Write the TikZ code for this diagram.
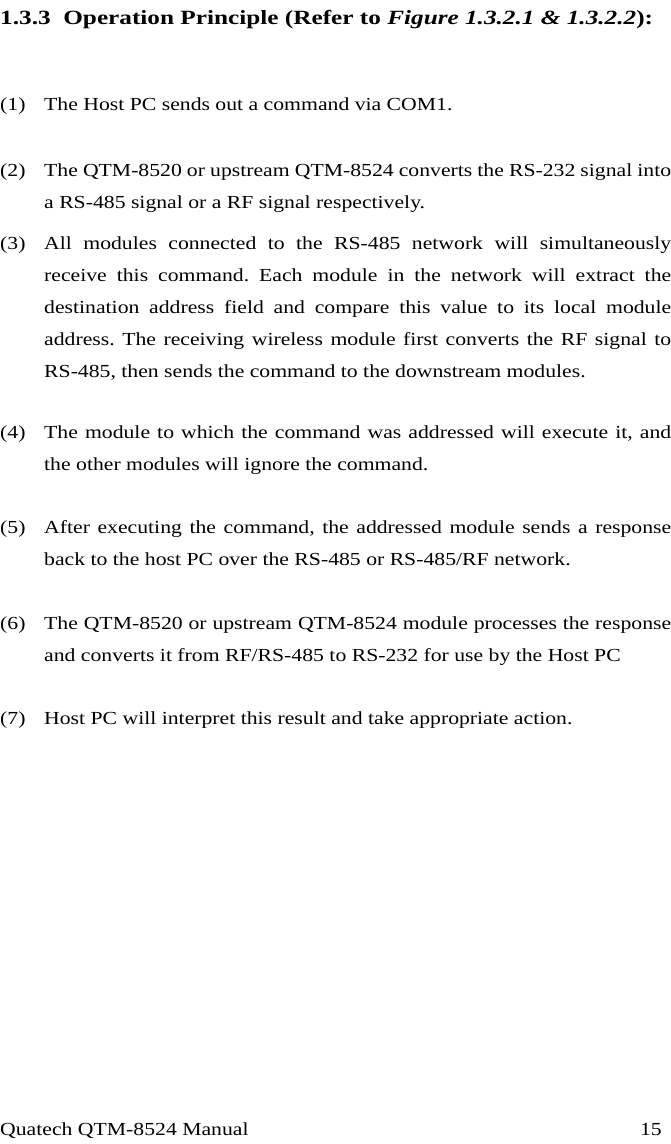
\documentclass[tikz,border=0pt]{standalone}
\usepackage{fontspec}
\setmainfont{Liberation Serif}[FakeStretch=1.18]
\newfontfamily\headfont{Liberation Serif}[FakeStretch=1.25]
\begin{document}
\frenchspacing
\begin{tikzpicture}[x=1pt,y=-1pt,
  para/.style={anchor=base west,inner sep=0pt,text width=627pt,align=justify,font=\fontsize{18.4}{32}\selectfont},
  num/.style={anchor=base west,inner sep=0pt,font=\fontsize{18.4}{32}\selectfont}]
\useasboundingbox (0,0) rectangle (671,1144);
\node[anchor=base west,inner sep=0pt,font=\headfont\fontsize{20.2}{22}\selectfont\bfseries] (h) at (0,24) {1.3.3\ \ Operation Principle (Refer to \textit{Figure 1.3.2.1 \& 1.3.2.2}):};
\node[num] (n1) at (0,110) {(1)};
\node[para] (p1) at (44,110) {The Host PC sends out a command via COM1.};
\node[num] (n2) at (0,176) {(2)};
\node[para] (p2) at (44,176) {The QTM-8520 or upstream QTM-8524 converts the RS-232 signal into\linebreak a RS-485 signal or a RF signal respectively.};
\node[num] (n3) at (0,249) {(3)};
\node[para] (p3) at (44,249) {All modules connected to the RS-485 network will simultaneously\linebreak receive this command. Each module in the network will extract the\linebreak destination address field and compare this value to its local module\linebreak address. The receiving wireless module first converts the RF signal to\linebreak RS-485, then sends the command to the downstream modules.};
\node[num] (n4) at (0,438) {(4)};
\node[para] (p4) at (44,438) {The module to which the command was addressed will execute it, and\linebreak the other modules will ignore the command.};
\node[num] (n5) at (0,533) {(5)};
\node[para] (p5) at (44,533) {After executing the command, the addressed module sends a response\linebreak back to the host PC over the RS-485 or RS-485/RF network.};
\node[num] (n6) at (0,629) {(6)};
\node[para] (p6) at (44,629) {The QTM-8520 or upstream QTM-8524 module processes the response\linebreak and converts it from RF/RS-485 to RS-232 for use by the Host PC};
\node[num] (n7) at (0,724) {(7)};
\node[para] (p7) at (44,724) {Host PC will interpret this result and take appropriate action.};
\node[num] (f1) at (0,1135) {Quatech QTM-8524 Manual};
\node[anchor=base east,inner sep=0pt,font=\fontsize{18.4}{32}\selectfont] (f2) at (662,1135) {15};
\end{tikzpicture}
\end{document}
